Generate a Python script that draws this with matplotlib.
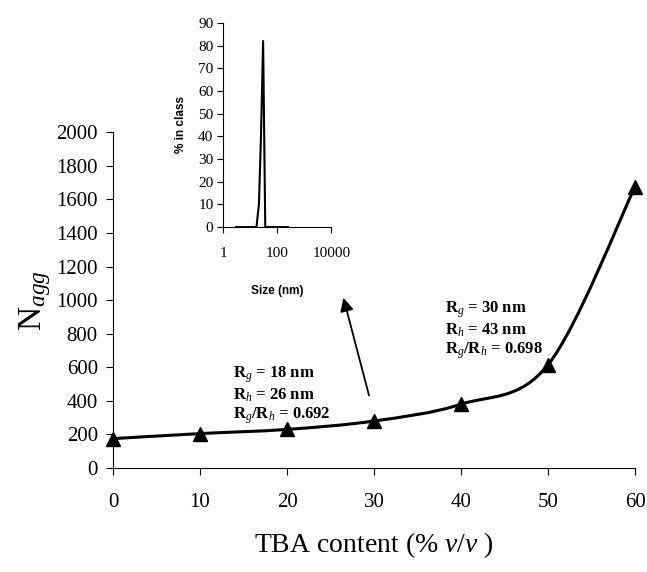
import numpy as np
import matplotlib
matplotlib.use("Agg")
import matplotlib.pyplot as plt
from matplotlib.path import Path
from matplotlib.patches import PathPatch

plt.rcParams['font.family'] = ['Liberation Serif', 'DejaVu Serif']
plt.rcParams['mathtext.fontset'] = 'custom'
plt.rcParams['mathtext.rm'] = 'Liberation Serif'
plt.rcParams['mathtext.it'] = 'Liberation Serif:italic'
plt.rcParams['mathtext.bf'] = 'Liberation Serif:bold'

# Main data: aggregation number vs TBA content
tba = [0, 10, 20, 30, 40, 50, 60]
nagg = [175, 205, 230, 280, 380, 615, 1675]

# Inset: size distribution
size_nm = [3, 10, 17, 21, 25, 30, 36, 50, 100, 250]
pct_class = [0, 0, 0, 10, 40, 82, 0, 0, 0, 0]

fig = plt.figure(figsize=(6.47, 5.72), dpi=100)
ax = fig.add_axes([0.1747, 0.1818, 0.8068, 0.587])

# smooth line (Catmull-Rom -> cubic Bezier), drawn in data coords
x = np.array(tba, dtype=float)
y = np.array(nagg, dtype=float)
verts = [(x[0], y[0])]
codes = [Path.MOVETO]
n = len(x)
for i in range(n - 1):
    x0, y0 = (x[i - 1], y[i - 1]) if i > 0 else (x[i], y[i])
    x3, y3 = (x[i + 2], y[i + 2]) if i + 2 < n else (x[i + 1], y[i + 1])
    c1 = (x[i] + (x[i + 1] - x0) / 6, y[i] + (y[i + 1] - y0) / 6)
    c2 = (x[i + 1] - (x3 - x[i]) / 6, y[i + 1] - (y3 - y[i]) / 6)
    verts += [c1, c2, (x[i + 1], y[i + 1])]
    codes += [Path.CURVE4] * 3
ax.add_patch(PathPatch(Path(verts, codes), fill=False, lw=2.2, color='black'))
ax.plot(tba, nagg, ls='none', marker='^', ms=10, color='black', clip_on=False)

ax.set_xlim(0, 60)
ax.set_ylim(0, 2000)
ax.set_xticks(range(0, 61, 10))
ax.set_yticks(range(0, 2001, 200))
ax.spines['top'].set_visible(False)
ax.spines['right'].set_visible(False)
ax.tick_params(labelsize=15, length=5, direction='out')
ax.tick_params(axis='x', pad=13)
ax.tick_params(axis='y', pad=6)
ax.set_ylabel(r'N$_{\mathit{agg}}$', fontsize=24, labelpad=2)
ax.set_xlabel(r'TBA content (% $\mathit{v/v}$ )', fontsize=20, labelpad=13)

ax.text(13.8, 434, r'R$_{\mathbf{\mathit{g}}}$ = 18 nm' + '\n' + r'R$_{\mathbf{\mathit{h}}}$ = 26 nm' + '\n' +
        r'R$_{\mathbf{\mathit{g}}}$/R$_{\mathbf{\mathit{h}}}$ = 0.692',
        fontsize=12, fontweight='bold', va='center', ha='left', linespacing=1.1)
ax.text(38.2, 821, r'R$_{\mathbf{\mathit{g}}}$ = 30 nm' + '\n' + r'R$_{\mathbf{\mathit{h}}}$ = 43 nm' + '\n' +
        r'R$_{\mathbf{\mathit{g}}}$/R$_{\mathbf{\mathit{h}}}$ = 0.698',
        fontsize=12, fontweight='bold', va='center', ha='left', linespacing=1.1)
ax.annotate('', xy=(26.4, 1030), xytext=(29.5, 417),
            arrowprops=dict(arrowstyle='-|>', color='black', lw=1.3, mutation_scale=20))

# inset
ins = fig.add_axes([0.345, 0.603, 0.167, 0.357])
ins.plot(size_nm, pct_class, color='black', lw=1.5)
ins.set_xscale('log')
ins.set_xlim(1, 10000)
ins.set_ylim(0, 90)
ins.set_xticks([1, 100, 10000])
ins.set_xticklabels(['1', '100', '10000'])
ins.minorticks_off()
ins.set_yticks(range(0, 91, 10))
ins.spines['top'].set_visible(False)
ins.spines['right'].set_visible(False)
ins.tick_params(labelsize=11, length=4, direction='out', pad=3)
ins.tick_params(axis='x', pad=10)
ins.set_xlabel('Size (nm)', fontsize=8.5, fontweight='bold', family='Liberation Sans', labelpad=18)
ins.set_ylabel('% in class', fontsize=8.5, fontweight='bold', family='Liberation Sans', labelpad=8)

fig.savefig('out.png', dpi=100)
